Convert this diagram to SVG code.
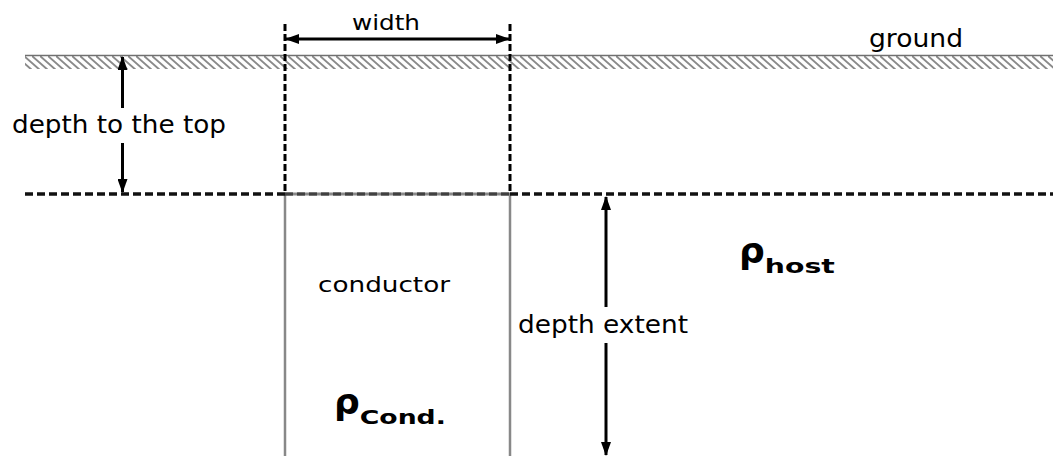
<svg xmlns="http://www.w3.org/2000/svg" width="1053" height="456" viewBox="0 0 1053 456">
  <style>
    .lbl { font-family: "DejaVu Sans", "Liberation Sans", sans-serif; fill: #000; }
    .sym { font-family: "DejaVu Sans", "Liberation Sans", sans-serif; font-weight: bold; fill: #000; }
    .dim { stroke: #000; stroke-width: 3; fill: none; }
    .wall { stroke: #888; stroke-width: 2.5; fill: none; }
    .guide { stroke: #000; stroke-width: 3; stroke-dasharray: 7 3; fill: none; }
    .top { stroke: #111; stroke-width: 3.5; stroke-dasharray: 8 4; fill: none; }
  </style>
  <defs>
    <pattern id="hatch" patternUnits="userSpaceOnUse" width="8" height="14">
      <path d="M-8,0 L8,14 M0,0 L16,14" stroke="#8a8a8a" stroke-width="2"/>
    </pattern>
    <marker id="head" viewBox="0 0 14 10" refX="13" refY="5" markerWidth="14" markerHeight="10" markerUnits="userSpaceOnUse" orient="auto-start-reverse">
      <path d="M0,0 L14,5 L0,10 Z" fill="#000"/>
    </marker>
  </defs>
  <rect width="1053" height="456" fill="#fff"/>

  <!-- ground surface with hatched band -->
  <g id="ground">
    <rect x="25" y="56" width="1028" height="13" fill="url(#hatch)"/>
    <line x1="25" y1="55.5" x2="1053" y2="55.5" stroke="#707070" stroke-width="1.5"/>
    <text class="lbl" x="869" y="47" font-size="24" textLength="94" lengthAdjust="spacingAndGlyphs">ground</text>
  </g>

  <!-- conductor body -->
  <g id="conductor">
    <line class="wall" x1="285" y1="194" x2="285" y2="456"/>
    <line class="wall" x1="510" y1="194" x2="510" y2="456"/>
    <line x1="285" y1="194" x2="510" y2="194" stroke="#888" stroke-width="3"/>
    <text class="lbl" x="318" y="292" font-size="21" textLength="132" lengthAdjust="spacingAndGlyphs">conductor</text>
    <text class="sym" x="334" y="414" font-size="36">ρ<tspan font-size="19" textLength="86" lengthAdjust="spacingAndGlyphs" dy="10">Cond.</tspan></text>
  </g>

  <!-- host medium -->
  <g id="host">
    <text class="sym" x="739" y="263" font-size="36">ρ<tspan font-size="19" textLength="70" lengthAdjust="spacingAndGlyphs" dy="10">host</tspan></text>
  </g>

  <!-- connectors: guides, top line and dimension arrows -->
  <g id="connectors">
    <line class="top" x1="25" y1="194" x2="285" y2="194"/>
    <line class="top" x1="285" y1="194" x2="510" y2="194" stroke="#444" stroke-opacity="0.6"/>
    <line class="top" x1="510" y1="194" x2="1053" y2="194"/>
    <line class="guide" x1="285" y1="24" x2="285" y2="194"/>
    <line class="guide" x1="510" y1="24" x2="510" y2="194"/>

    <line class="dim" x1="286" y1="39" x2="509" y2="39" marker-start="url(#head)" marker-end="url(#head)"/>
    <text class="lbl" x="352" y="30" font-size="21" textLength="68" lengthAdjust="spacingAndGlyphs">width</text>

    <line class="dim" x1="122.5" y1="57" x2="122.5" y2="108" marker-start="url(#head)"/>
    <line class="dim" x1="122.5" y1="143" x2="122.5" y2="192" marker-end="url(#head)"/>
    <text class="lbl" x="12" y="133" font-size="25" textLength="214" lengthAdjust="spacingAndGlyphs">depth to the top</text>

    <line class="dim" x1="606" y1="197" x2="606" y2="307" marker-start="url(#head)"/>
    <line class="dim" x1="606" y1="343" x2="606" y2="455" marker-end="url(#head)"/>
    <text class="lbl" x="518" y="333" font-size="24" textLength="170" lengthAdjust="spacingAndGlyphs">depth extent</text>
  </g>
</svg>
